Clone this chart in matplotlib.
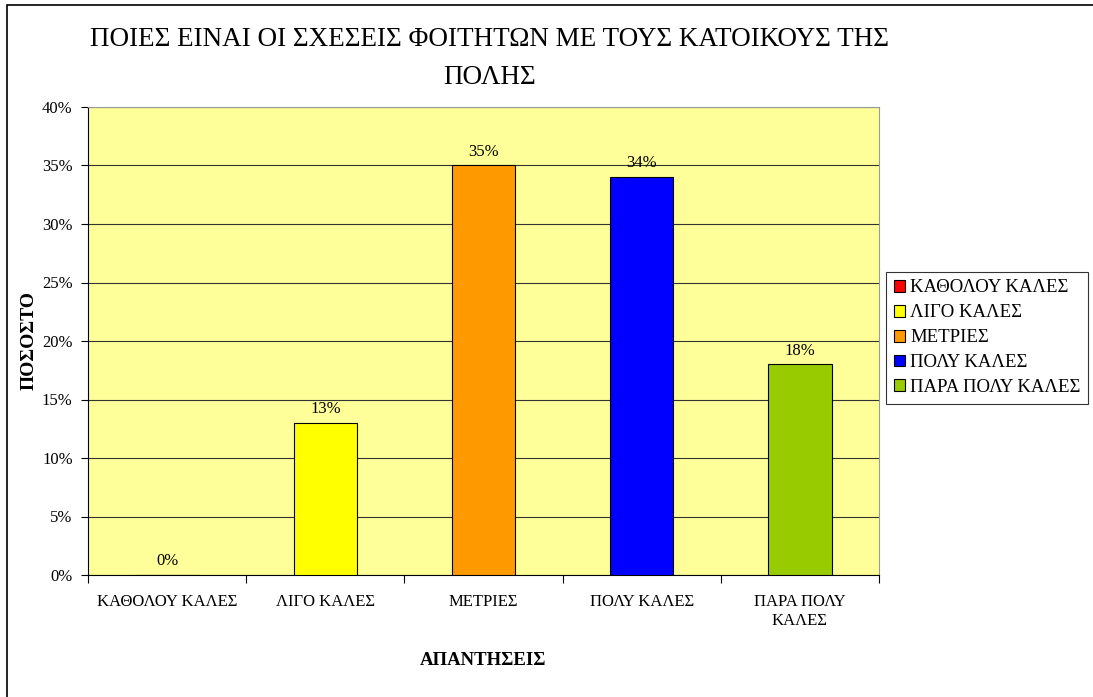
import matplotlib.pyplot as plt
import numpy as np
from matplotlib.patches import Rectangle

plt.rcParams['font.family'] = ['Liberation Serif', 'DejaVu Serif']

categories = ['ΚΑΘΟΛΟΥ ΚΑΛΕΣ', 'ΛΙΓΟ ΚΑΛΕΣ', 'ΜΕΤΡΙΕΣ', 'ΠΟΛΥ ΚΑΛΕΣ', 'ΠΑΡΑ ΠΟΛΥ ΚΑΛΕΣ']
tick_labels = ['ΚΑΘΟΛΟΥ ΚΑΛΕΣ', 'ΛΙΓΟ ΚΑΛΕΣ', 'ΜΕΤΡΙΕΣ', 'ΠΟΛΥ ΚΑΛΕΣ', 'ΠΑΡΑ ΠΟΛΥ\nΚΑΛΕΣ']
values = [0, 13, 35, 34, 18]
colors = ['#ff0000', '#ffff00', '#ff9900', '#0000ff', '#99cc00']

fig = plt.figure(figsize=(10.93, 6.97), dpi=100)
ax = fig.add_axes([88/1093, 1-575/697, (879-88)/1093, (575-107)/697])
ax.set_facecolor('#ffff99')

x = np.arange(len(categories))
bars = ax.bar(x, values, width=0.4, color=colors, edgecolor='black', linewidth=0.8, zorder=3)
for xi, v in zip(x, values):
    ax.text(xi, v + 0.5, f'{v}%', ha='center', va='bottom', fontsize=12)

ax.set_xlim(-0.5, len(categories) - 0.5)
ax.set_ylim(0, 40)
ax.set_yticks(np.arange(0, 41, 5))
ax.set_yticklabels([f'{t}%' for t in range(0, 41, 5)], fontsize=12)
ax.set_xticks(np.arange(-0.5, len(categories), 1))
ax.set_xticklabels([])
ax.set_xticks(x, minor=True)
ax.set_xticklabels(tick_labels, minor=True, fontsize=12, linespacing=1.25)
ax.tick_params(axis='x', which='minor', length=0, pad=14)
ax.tick_params(axis='x', which='major', length=6, direction='out')
ax.tick_params(axis='y', length=5, direction='out', pad=6)
ax.yaxis.grid(True, color='#333333', linewidth=0.8, zorder=0)
ax.set_axisbelow(True)
for s in ['top', 'right']:
    ax.spines[s].set_color('#999999')
ax.spines['left'].set_color('black')
ax.spines['bottom'].set_color('black')

ax.set_xlabel('ΑΠΑΝΤΗΣΕΙΣ', fontsize=13.5, fontweight='bold', labelpad=16)
ax.set_ylabel('ΠΟΣΟΣΤΟ', fontsize=14, fontweight='bold', labelpad=3)

fig.text(490/1093, 1-40/697, 'ΠΟΙΕΣ ΕΙΝΑΙ ΟΙ ΣΧΕΣΕΙΣ ΦΟΙΤΗΤΩΝ ΜΕ ΤΟΥΣ ΚΑΤΟΙΚΟΥΣ ΤΗΣ',
         ha='center', va='center', fontsize=19.5)
fig.text(490/1093, 1-77/697, 'ΠΟΛΗΣ', ha='center', va='center', fontsize=19.5)

handles = [Rectangle((0, 0), 1, 1, facecolor=c, edgecolor='black', linewidth=0.8) for c in colors]
leg = fig.legend(handles, categories, loc='upper left', bbox_to_anchor=(886/1093, 1-272/697),
                 fontsize=13.5, frameon=True, fancybox=False, borderaxespad=0,
                 handlelength=0.6, handleheight=0.6, handletextpad=0.3, labelspacing=0.42,
                 borderpad=0.4)
leg.get_frame().set_edgecolor('black')
leg.get_frame().set_linewidth(0.8)

# outer chart frame
fig.patches.append(Rectangle((7/1093, -0.01), 1.0, 1-5/697 + 0.01, transform=fig.transFigure,
                             fill=False, edgecolor='black', linewidth=1.2))

fig.savefig('out.png', dpi=100)
